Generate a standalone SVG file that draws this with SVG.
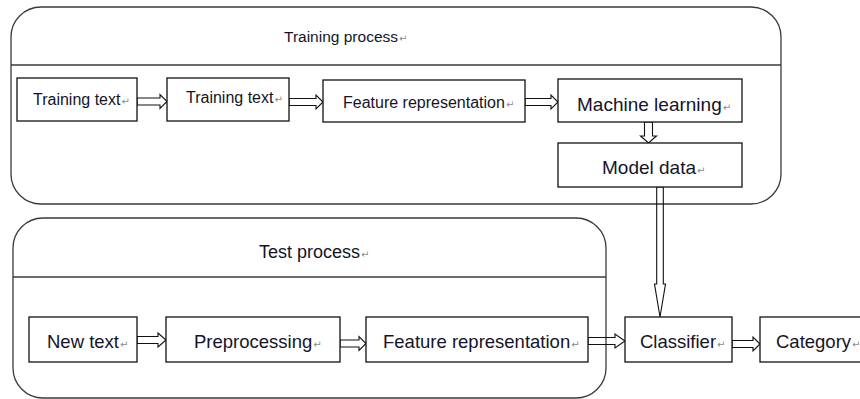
<svg xmlns="http://www.w3.org/2000/svg" width="860" height="399" viewBox="0 0 860 399">
<defs>
<style>
.bg{fill:#ffffff}
.cont{fill:none;stroke:#3a3a3a;stroke-width:1.3}
.box{fill:#ffffff;stroke:#111;stroke-width:1.3}
.arr{fill:none;stroke:#111;stroke-width:1.1;stroke-linejoin:miter}
.t{font-family:"Liberation Sans",Arial,sans-serif;fill:#141428}
.s{font-size:16px}
.m{font-size:18.5px}
.l{font-size:19px}
.rm{font-family:"DejaVu Sans",sans-serif;font-size:10px;fill:#8a8a8a}
</style>
</defs>
<rect class="bg" x="0" y="0" width="860" height="399"/>
<g id="training-process">
<rect class="cont" x="11" y="7" width="770" height="197" rx="30" ry="30"/>
<line class="cont" x1="11" y1="65" x2="781" y2="65"/>
<text class="t" x="284" y="42" style="font-size:15.5px">Training process<tspan class="rm" dx="1">↵</tspan></text>
</g>
<g id="test-process">
<rect class="cont" x="13" y="218" width="593" height="180" rx="30" ry="30"/>
<line class="cont" x1="13" y1="277" x2="606" y2="277"/>
<text class="t" x="259" y="258" style="font-size:18px">Test process<tspan class="rm" dx="1">↵</tspan></text>
</g>
<g id="connectors">
<path class="arr" d="M137,98 H160 V94.5 L167,101.5 L160,108.5 V105 H137 Z"/>
<path class="arr" d="M289,98.5 H316 V95 L323,102 L316,109 V105.5 H289 Z"/>
<path class="arr" d="M525,98.5 H551 V95 L558,102 L551,109 V105.5 H525 Z"/>
<path class="arr" d="M644.5,122 V136 H640.5 L648.5,143 L656.5,136 H652.5 V122 Z"/>
<path class="arr" d="M656.7,187 V284 H654.5 L660,317 L665.5,284 H663.3 V187 Z"/>
<path class="arr" d="M137,336.5 H158 V333 L166,340 L158,347 V343.5 H137 Z"/>
<path class="arr" d="M340,340 H359 V336.5 L366,343.5 L359,350.5 V347 H340 Z"/>
<path class="arr" d="M588,337.5 H615 V334 L625,341 L615,348 V344.5 H588 Z"/>
<path class="arr" d="M732,340.5 H753 V337 L760,344 L753,351 V347.5 H732 Z"/>
</g>
<g id="training-text-1">
<rect class="box" x="17" y="78" width="120" height="43"/>
<text class="t s" x="33" y="105">Training text<tspan class="rm" dx="1">↵</tspan></text>
</g>
<g id="training-text-2">
<rect class="box" x="167" y="78" width="122" height="43"/>
<text class="t s" x="186" y="103">Training text<tspan class="rm" dx="1">↵</tspan></text>
</g>
<g id="feature-representation-1">
<rect class="box" x="323" y="80" width="202" height="42"/>
<text class="t s" x="343" y="108">Feature representation<tspan class="rm" dx="1">↵</tspan></text>
</g>
<g id="machine-learning">
<rect class="box" x="558" y="79" width="184" height="43"/>
<text class="t l" x="577" y="111">Machine learning<tspan class="rm" dx="1">↵</tspan></text>
</g>
<g id="model-data">
<rect class="box" x="558" y="143" width="184" height="44"/>
<text class="t l" x="602" y="174">Model data<tspan class="rm" dx="1">↵</tspan></text>
</g>
<g id="new-text">
<rect class="box" x="29" y="317" width="108" height="45"/>
<text class="t m" x="47" y="348">New text<tspan class="rm" dx="1">↵</tspan></text>
</g>
<g id="preprocessing">
<rect class="box" x="166" y="317" width="174" height="45"/>
<text class="t m" x="194" y="348">Preprocessing<tspan class="rm" dx="1">↵</tspan></text>
</g>
<g id="feature-representation-2">
<rect class="box" x="366" y="317" width="222" height="45"/>
<text class="t m" x="383" y="348">Feature representation<tspan class="rm" dx="1">↵</tspan></text>
</g>
<g id="classifier">
<rect class="box" x="625" y="317" width="107" height="45"/>
<text class="t m" x="640" y="348">Classifier<tspan class="rm" dx="1">↵</tspan></text>
</g>
<g id="category">
<rect class="box" x="760" y="317" width="110" height="45"/>
<text class="t m" x="776" y="348">Category<tspan class="rm" dx="1">↵</tspan></text>
</g>
</svg>
